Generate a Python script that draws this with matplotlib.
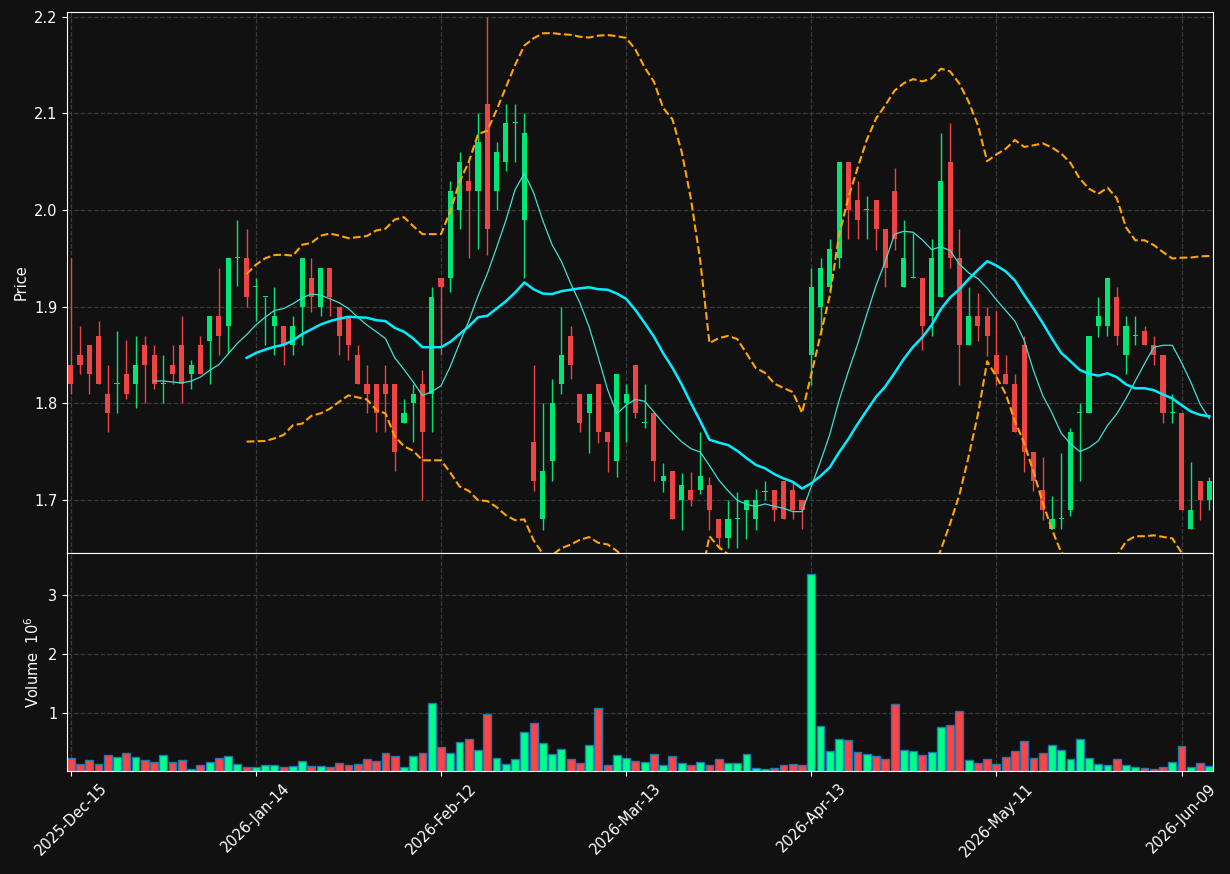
import numpy as np
import pandas as pd
import matplotlib
matplotlib.use("Agg")
import matplotlib.pyplot as plt

# daily OHLC and volume in millions
opens = [1.84, 1.85, 1.86, 1.87, 1.81, 1.82, 1.83, 1.82, 1.86, 1.85,
         1.82, 1.84, 1.86, 1.83, 1.86, 1.864, 1.89, 1.88, 1.95, 1.95,
         1.92, 1.91, 1.88, 1.88, 1.86, 1.90, 1.93, 1.90, 1.94, 1.90,
         1.89, 1.85, 1.82, 1.82, 1.82, 1.82, 1.78, 1.80, 1.82, 1.81,
         1.93, 1.93, 2.00, 2.03, 2.02, 2.11, 2.02, 2.05, 2.09, 1.99,
         1.76, 1.68, 1.74, 1.82, 1.87, 1.81, 1.79, 1.82, 1.77, 1.74,
         1.80, 1.84, 1.78, 1.79, 1.72, 1.73, 1.70, 1.71, 1.71, 1.715,
         1.68, 1.66, 1.68, 1.69, 1.68, 1.708, 1.71, 1.72, 1.71, 1.70,
         1.85, 1.90, 1.92, 1.95, 2.05, 2.01, 2.00, 2.01, 1.98, 2.02,
         1.92, 1.93, 1.93, 1.89, 1.91, 2.05, 1.95, 1.86, 1.89, 1.89,
         1.85, 1.83, 1.82, 1.86, 1.75, 1.71, 1.67, 1.68, 1.69, 1.79,
         1.79, 1.88, 1.88, 1.91, 1.85, 1.87, 1.875, 1.86, 1.85, 1.79,
         1.79, 1.67, 1.72, 1.70]
highs = [1.95, 1.88, 1.86, 1.885, 1.84, 1.875, 1.865, 1.87, 1.87, 1.86,
         1.85, 1.86, 1.89, 1.845, 1.87, 1.89, 1.94, 1.95, 1.99, 1.98,
         1.93, 1.91, 1.92, 1.88, 1.89, 1.95, 1.95, 1.94, 1.94, 1.90,
         1.89, 1.86, 1.84, 1.82, 1.84, 1.82, 1.804, 1.82, 1.834, 1.92,
         1.93, 2.03, 2.06, 2.05, 2.10, 2.20, 2.07, 2.11, 2.11, 2.10,
         1.84, 1.80, 1.825, 1.90, 1.88, 1.81, 1.81, 1.82, 1.77, 1.83,
         1.82, 1.84, 1.82, 1.79, 1.738, 1.73, 1.728, 1.729, 1.77, 1.724,
         1.68, 1.70, 1.708, 1.70, 1.711, 1.719, 1.71, 1.72, 1.72, 1.70,
         1.94, 1.95, 1.97, 2.05, 2.05, 2.03, 2.014, 2.01, 1.98, 2.044,
         1.99, 1.976, 1.93, 1.97, 2.08, 2.09, 1.98, 1.92, 1.914, 1.90,
         1.895, 1.85, 1.83, 1.87, 1.75, 1.744, 1.704, 1.748, 1.774, 1.80,
         1.87, 1.91, 1.93, 1.92, 1.89, 1.89, 1.88, 1.87, 1.85, 1.81,
         1.79, 1.739, 1.72, 1.724]
lows = [1.81, 1.83, 1.81, 1.82, 1.77, 1.79, 1.804, 1.795, 1.80, 1.815,
        1.80, 1.82, 1.80, 1.815, 1.83, 1.82, 1.85, 1.852, 1.921, 1.90,
        1.885, 1.86, 1.85, 1.84, 1.85, 1.86, 1.894, 1.89, 1.89, 1.85,
        1.845, 1.82, 1.79, 1.77, 1.77, 1.73, 1.78, 1.76, 1.70, 1.77,
        1.85, 1.915, 1.98, 1.95, 1.96, 1.953, 2.00, 2.04, 2.05, 1.93,
        1.709, 1.669, 1.719, 1.81, 1.825, 1.77, 1.749, 1.759, 1.729, 1.724,
        1.76, 1.785, 1.774, 1.719, 1.708, 1.68, 1.669, 1.694, 1.706, 1.669,
        1.649, 1.65, 1.65, 1.659, 1.669, 1.70, 1.678, 1.68, 1.68, 1.67,
        1.819, 1.872, 1.914, 1.94, 1.97, 1.97, 1.97, 1.959, 1.92, 1.959,
        1.92, 1.93, 1.855, 1.87, 1.91, 1.94, 1.819, 1.86, 1.864, 1.849,
        1.819, 1.82, 1.77, 1.729, 1.709, 1.679, 1.67, 1.67, 1.683, 1.719,
        1.79, 1.869, 1.87, 1.86, 1.83, 1.86, 1.86, 1.84, 1.78, 1.78,
        1.69, 1.67, 1.679, 1.689]
closes = [1.82, 1.84, 1.83, 1.82, 1.79, 1.82, 1.81, 1.84, 1.84, 1.82,
          1.82, 1.83, 1.82, 1.84, 1.83, 1.89, 1.87, 1.95, 1.95, 1.91,
          1.92, 1.91, 1.89, 1.86, 1.88, 1.95, 1.91, 1.94, 1.91, 1.87,
          1.86, 1.82, 1.81, 1.79, 1.81, 1.75, 1.79, 1.81, 1.77, 1.91,
          1.92, 2.02, 2.05, 2.02, 2.07, 1.98, 2.06, 2.09, 2.09, 2.08,
          1.72, 1.73, 1.80, 1.85, 1.84, 1.78, 1.81, 1.77, 1.76, 1.83,
          1.81, 1.79, 1.78, 1.74, 1.725, 1.68, 1.715, 1.70, 1.725, 1.69,
          1.66, 1.68, 1.68, 1.70, 1.70, 1.708, 1.69, 1.68, 1.69, 1.69,
          1.92, 1.94, 1.96, 2.05, 2.00, 1.99, 2.00, 1.98, 1.94, 1.97,
          1.95, 1.93, 1.88, 1.95, 2.03, 1.95, 1.86, 1.89, 1.88, 1.87,
          1.83, 1.82, 1.77, 1.75, 1.72, 1.69, 1.68, 1.68, 1.77, 1.79,
          1.87, 1.89, 1.93, 1.87, 1.88, 1.87, 1.86, 1.85, 1.79, 1.79,
          1.69, 1.69, 1.70, 1.72]
volumes = [0.24, 0.14, 0.205, 0.14, 0.29, 0.256, 0.32, 0.256, 0.205, 0.17,
           0.29, 0.17, 0.205, 0.053, 0.12, 0.17, 0.24, 0.27, 0.14, 0.09,
           0.09, 0.12, 0.12, 0.09, 0.10, 0.19, 0.10, 0.10, 0.09, 0.155,
           0.12, 0.14, 0.22, 0.19, 0.32, 0.27, 0.09, 0.27, 0.32, 1.17,
           0.43, 0.32, 0.51, 0.56, 0.375, 0.98, 0.24, 0.14, 0.22, 0.68,
           0.83, 0.49, 0.31, 0.39, 0.22, 0.155, 0.46, 1.085, 0.12, 0.29,
           0.24, 0.19, 0.17, 0.31, 0.12, 0.27, 0.155, 0.12, 0.17, 0.12,
           0.22, 0.155, 0.155, 0.31, 0.07, 0.05, 0.07, 0.12, 0.14, 0.12,
           3.35, 0.78, 0.36, 0.56, 0.54, 0.34, 0.31, 0.27, 0.22, 1.15,
           0.375, 0.36, 0.29, 0.34, 0.76, 0.80, 1.03, 0.205, 0.155, 0.22,
           0.14, 0.256, 0.36, 0.53, 0.24, 0.32, 0.46, 0.375, 0.22, 0.56,
           0.24, 0.14, 0.12, 0.22, 0.12, 0.09, 0.07, 0.05, 0.09, 0.17,
           0.44, 0.09, 0.155, 0.10]

holidays = ["2025-12-25", "2026-01-01", "2026-01-19", "2026-02-16",
            "2026-04-03", "2026-05-25"]
dates = pd.bdate_range("2025-12-15", periods=len(closes), freq="C", holidays=holidays)

bg = "#111111"
up_c, down_c = "#00e676", "#ef4444"
vol_up, vol_down = "#00ff88", "#ff4444"

o = np.array(opens); h = np.array(highs); l = np.array(lows); c = np.array(closes)
x = np.arange(len(c))
up = c >= o
s = pd.Series(c)
ma10 = s.rolling(10).mean()
ma20 = s.rolling(20).mean()
sd20 = s.rolling(20).std(ddof=0)

fig = plt.figure(figsize=(12.3, 8.74), dpi=100, facecolor=bg)
ax = fig.add_axes([0.0545, 0.3673, 0.9317, 0.619])
axv = fig.add_axes([0.0545, 0.1178, 0.9317, 0.2495], sharex=ax)

for a in (ax, axv):
    a.set_facecolor(bg)
    for sp in a.spines.values():
        sp.set_color("white")
    a.tick_params(colors="white", labelsize=10.5)
    a.grid(True, color="#3a3a3a", linestyle="--", linewidth=0.9)
    a.set_axisbelow(True)

# candles
cols = np.where(up, up_c, down_c)
ax.vlines(x, l, h, colors=cols, linewidth=1)
body_lo = np.minimum(o, c)
body_h = np.abs(c - o)
body_h = np.where(body_h < 0.001, 0.001, body_h)
ax.bar(x, body_h, 0.55, bottom=body_lo, color=cols, linewidth=0)

ax.plot(x, ma10, color="#40e0d0", linewidth=0.9)
ax.plot(x, ma20, color="#00eeff", linewidth=1.8)
ax.plot(x, ma20 + 2 * sd20, color="orange", linestyle="--", linewidth=1.5)
ax.plot(x, ma20 - 2 * sd20, color="orange", linestyle="--", linewidth=1.5)

ax.set_ylim(1.645, 2.205)
ax.set_ylabel("Price", color="white", fontsize=10.5)
plt.setp(ax.get_xticklabels(), visible=False)

vcols = np.where(up, vol_up, vol_down)
axv.bar(x, volumes, 0.85, color=vcols, edgecolor="#1f77b4", linewidth=1)
axv.set_ylim(0.02, 3.71)
axv.set_yticks([1, 2, 3])
axv.set_ylabel("Volume  $10^{6}$", color="white", fontsize=10.5)

ticks = list(range(0, len(c), 20))
axv.set_xticks(ticks)
axv.set_xticklabels([dates[i].strftime("%Y-%b-%d") for i in ticks], rotation=45)
axv.set_xlim(-0.4, len(c) - 0.6)

fig.savefig("out.png", dpi=100, facecolor=bg)
